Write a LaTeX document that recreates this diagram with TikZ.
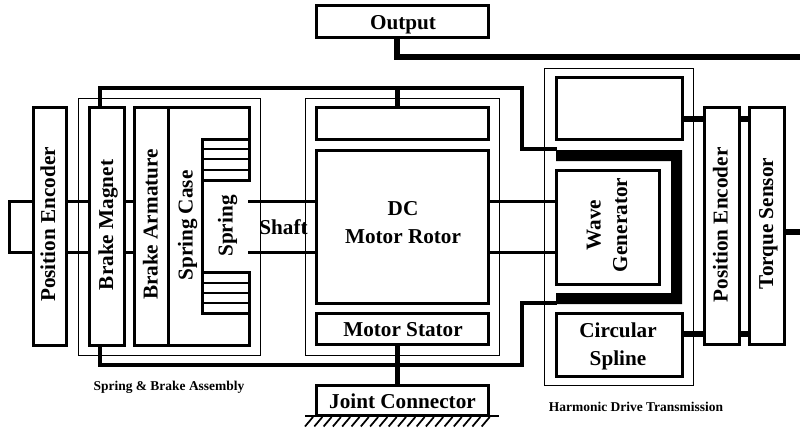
\documentclass[tikz,border=0pt]{standalone}
\usepackage{fontspec}
\setmainfont{Liberation Serif}
\usetikzlibrary{positioning,calc}
\tikzset{
  blk/.style 2 args={draw=black,line width=2.25pt,fill=white,inner sep=0pt,
    minimum width=#1*0.75pt,minimum height=#2*0.75pt},
  lbl/.style={font=\fontsize{15.9}{18}\selectfont\bfseries,inner sep=0pt,anchor=base},
  caption/.style={font=\fontsize{10.1}{12}\selectfont\bfseries,inner sep=0pt,anchor=base},
  group/.style={draw=black,line width=0.6pt},
  shaftln/.style={line width=2.25pt},
  bus/.style={line width=3.5pt},
  link/.style={line width=4.9pt},
  stub/.style={line width=3.75pt},
  hatchln/.style={line width=1.3pt},
}
\begin{document}
\begin{tikzpicture}[x=0.75pt,y=-0.75pt]
  \useasboundingbox (0,0) rectangle (800,428);
  % assembly frames
  \draw[group] (78,98) rectangle (260,355);
  \draw[group] (305,98.5) rectangle (499,355);
  \draw[group] (544,68) rectangle (693,385);
  \coordinate (shafttop) at (0,201);
  \coordinate (shaftbot) at (0,252);
  \coordinate (topbus) at (100,88);
  \coordinate (botbus) at (100,365);
  \coordinate (midbus) at (397,88);
  \coordinate (turnx) at (522,0);
  \coordinate (ringtop) at (556.5,149);
  \coordinate (ringbot) at (556.5,303);
  \coordinate (outbus) at (397,57);
  \coordinate (rightend) at (800,57);
  \coordinate (torqueend) at (800,232);
  \coordinate (shaftend) at (248,0);
  \coordinate (loopx) at (9,0);
  % blocks
  \node[blk={33.5}{237}] (encleft) at (49.75,226.5) {};
  \node[blk={35}{237}] (magnet) at (106.5,226.5) {};
  \node[blk={34}{237}] (armature) at (151,226.5) {};
  \node[blk={172}{31.5}] (output) at (402,21.75) {};
  \node[blk={172}{31}] (stattop) at (402,123.5) {};
  \node[blk={172}{153}] (rotor) at (402,226.5) {};
  \node[blk={172}{31}] (statbot) at (402,328.5) {};
  \node[blk={172}{30}] (joint) at (402,400) {};
  \node[blk={126}{61}] (ringup) at (619,108.5) {};
  \node[blk={103}{114}] (wave) at (607.5,227) {};
  \node[blk={126}{63}] (circular) at (619,344.5) {};
  \node[blk={35}{236}] (encright) at (721.5,226) {};
  \node[blk={35}{236}] (torque) at (766.5,226) {};
  % spring case
  \draw[shaftln,line join=miter] (168,108) -- (249,108) -- (249,180) -- (202,180);
  \draw[shaftln,line join=miter] (168,345) -- (249,345) -- (249,272) -- (202,272);
  \draw[shaftln,line join=miter] (249,139) -- (202,139) -- (202,313) -- (249,313);
  \foreach \y in {149,159,170,283,293,303}{
    \draw[line width=2pt] (202,\y) -- (249,\y);
  }
  % shaft
  \draw[shaftln] (encleft.west |- shafttop) -- (loopx |- shafttop) -- (loopx |- shaftbot) -- (encleft.west |- shaftbot);
  \foreach \s in {shafttop,shaftbot}{
    \draw[shaftln] (encleft.east |- \s) -- (magnet.west |- \s);
    \draw[shaftln] (magnet.east |- \s) -- (armature.west |- \s);
    \draw[shaftln] (shaftend |- \s) -- (rotor.west |- \s);
    \draw[shaftln] (rotor.east |- \s) -- (wave.west |- \s);
  }
  % brake and stator supply
  \draw[bus] (magnet.north -| topbus) -- (topbus) -- (turnx |- topbus) -- (turnx |- ringtop) -- (ringtop);
  \draw[bus] (magnet.south -| botbus) -- (botbus) -- (turnx |- botbus) -- (turnx |- ringbot) -- (ringbot);
  \draw[stub] (midbus) -- (stattop.north -| midbus);
  \draw[stub] (statbot.south -| midbus) -- (joint.north -| midbus);
  % flexspline
  \fill (556,150) -- (682,150) -- (682,304) -- (556,304) -- (556,293) -- (671,293) -- (671,161) -- (556,161) -- cycle;
  % output links
  \draw[link] (output.south -| outbus) -- (outbus) -- (rightend);
  \draw[link] (torque.east |- torqueend) -- (torqueend);
  \foreach \y in {119,334}{
    \draw[link] (682,\y) -- (encright.west |- 0,\y);
    \draw[link] (encright.east |- 0,\y) -- (torque.west |- 0,\y);
  }
  % ground
  \draw[line width=2.2pt] (305,416) -- (499,416);
  \foreach \x in {305,314.3,...,491}{
    \draw[hatchln] (\x,426.5) -- (\x+8,417);
  }
  % labels
  \node[lbl,rotate=90] (lenc) at (55,224.5) {Position Encoder};
  \node[lbl,rotate=90] (lmag) at (113,225) {Brake Magnet};
  \node[lbl,rotate=90] (larm) at (157.5,224.5) {Brake Armature};
  \node[lbl,rotate=90] (lcase) at (192.5,225.5) {Spring Case};
  \node[lbl,rotate=90] (lspr) at (232.5,226) {Spring};
  \node[lbl] (lshaft) at (283.5,234) {Shaft};
  \node[lbl] (loutput) at (403,30) {Output};
  \node[lbl] (ldc) at (403,215) {DC};
  \node[lbl] (lrot) at (403,243) {Motor Rotor};
  \node[lbl] (lstat) at (403,336) {Motor Stator};
  \node[lbl] (ljoint) at (402.5,408) {Joint Connector};
  \node[lbl,rotate=90] (lwave) at (600.5,225) {Wave};
  \node[lbl,rotate=90] (lgen) at (627,225) {Generator};
  \node[lbl] (lcirc) at (618,337) {Circular};
  \node[lbl] (lspl) at (618,365) {Spline};
  \node[lbl,rotate=90] (lencr) at (727.5,225) {Position Encoder};
  \node[lbl,rotate=90] (ltor) at (773,223.5) {Torque Sensor};
  \node[caption] (capbrake) at (169,390) {Spring \& Brake Assembly};
  \node[caption] (capdrive) at (636,411.5) {Harmonic Drive Transmission};
\end{tikzpicture}
\end{document}
